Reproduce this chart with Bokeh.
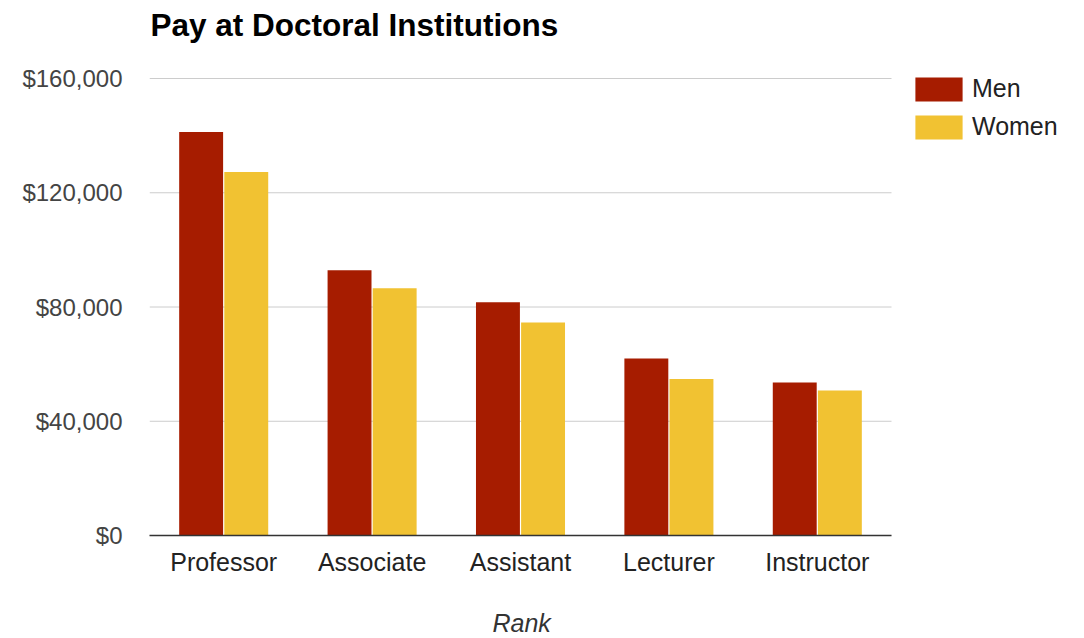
from bokeh.plotting import figure
from bokeh.models import (ColumnDataSource, Range1d, FixedTicker, Title,
                          NumeralTickFormatter, Legend, LegendItem, Label)
from bokeh.embed import file_html
from bokeh.resources import INLINE

# ---- data ----
categories = ["Professor", "Associate", "Assistant", "Lecturer", "Instructor"]
men = [141300, 92900, 81700, 62000, 53600]
women = [127300, 86600, 74600, 54800, 50800]
y_ticks = [0, 40000, 80000, 120000, 160000]
series_names = ["Men", "Women"]
colors = ["#A61C00", "#F1C232"]
title_text = "Pay at Doctoral Institutions"
x_title = "Rank"

FONT = "Liberation Sans"

# ---- layout (pixels) ----
W, H = 1068, 638
LEFT, BOTTOM = 149, 103            # frame left edge / bottom border
FRAME_W = W - LEFT
FRAME_H = H - BOTTOM
DATA_W = 742                       # pixel width used by the categories
DATA_H = 457                       # pixel height of the 0..160000 span

n = len(categories)
x_end = n * FRAME_W / DATA_W
y_end = y_ticks[-1] * FRAME_H / DATA_H

idx = list(range(n))
source = ColumnDataSource(dict(
    xm=[i + 0.5 - 0.152 for i in idx],
    xw=[i + 0.5 + 0.152 for i in idx],
    men=men, women=women))

p = figure(width=W, height=H, title=None,
           x_range=Range1d(0, x_end), y_range=Range1d(0, y_end),
           output_backend="svg", toolbar_location=None,
           min_border_left=LEFT, min_border_right=0,
           min_border_top=0, min_border_bottom=BOTTOM)

p.background_fill_color = "white"
p.border_fill_color = "white"
p.outline_line_color = None
p.xgrid.grid_line_color = None
p.ygrid.grid_line_color = None

# horizontal gridlines over the category span
grid_src = ColumnDataSource(dict(y=y_ticks, x0=[0] * len(y_ticks),
                                 x1=[n] * len(y_ticks)))
p.segment(x0="x0", y0="y", x1="x1", y1="y", source=grid_src,
          line_color="#cccccc", line_width=1)

r1 = p.vbar(x="xm", top="men", width=0.296, source=source,
            fill_color=colors[0], line_color=None)
r2 = p.vbar(x="xw", top="women", width=0.296, source=source,
            fill_color=colors[1], line_color=None)

# y axis
p.yaxis.ticker = FixedTicker(ticks=y_ticks)
p.yaxis.formatter = NumeralTickFormatter(format="$0,0")
p.yaxis.axis_line_color = None
p.yaxis.major_tick_line_color = None
p.yaxis.minor_tick_line_color = None
p.yaxis.major_tick_out = 0
p.yaxis.major_label_standoff = 27
p.yaxis.major_label_text_font = FONT
p.yaxis.major_label_text_font_size = "24px"
p.yaxis.major_label_text_color = "#444444"

# x axis (categories)
p.xaxis.ticker = FixedTicker(ticks=[i + 0.5 for i in idx])
p.xaxis.major_label_overrides = {i + 0.5: c for i, c in zip(idx, categories)}
p.xaxis.bounds = (0, n)
p.xaxis.axis_line_color = "#333333"
p.xaxis.axis_line_width = 1.5
p.xaxis.major_tick_line_color = None
p.xaxis.minor_tick_line_color = None
p.xaxis.major_tick_out = 0
p.xaxis.major_label_standoff = 12
p.xaxis.major_label_text_font = FONT
p.xaxis.major_label_text_font_size = "25px"
p.xaxis.major_label_text_color = "#222222"

# x-axis title, below the tick labels, left-aligned with an offset
p.add_layout(Title(text="\n" + x_title, align="left", offset=343,
                   vertical_align="bottom", standoff=0,
                   text_font=FONT, text_font_style="italic",
                   text_font_size="25px", text_color="#333333"), "below")

# legend
legend = Legend(items=[LegendItem(label=series_names[0], renderers=[r1]),
                       LegendItem(label=series_names[1], renderers=[r2])],
                location=(760, 393.5), orientation="vertical",
                glyph_width=59, glyph_height=30, label_height=25,
                label_standoff=4, spacing=8, padding=0, margin=0,
                border_line_color=None, background_fill_alpha=0,
                label_text_font=FONT, label_text_font_size="25px",
                label_text_color="#222222")
p.add_layout(legend)

# title
p.add_layout(Label(x=1, y=FRAME_H - 24, x_units="screen", y_units="screen",
                   text=title_text, text_font=FONT, text_font_style="bold",
                   text_font_size="31.5px", text_color="black",
                   text_align="left", text_baseline="alphabetic"))

open("out.html", "w").write(file_html(p, INLINE))
